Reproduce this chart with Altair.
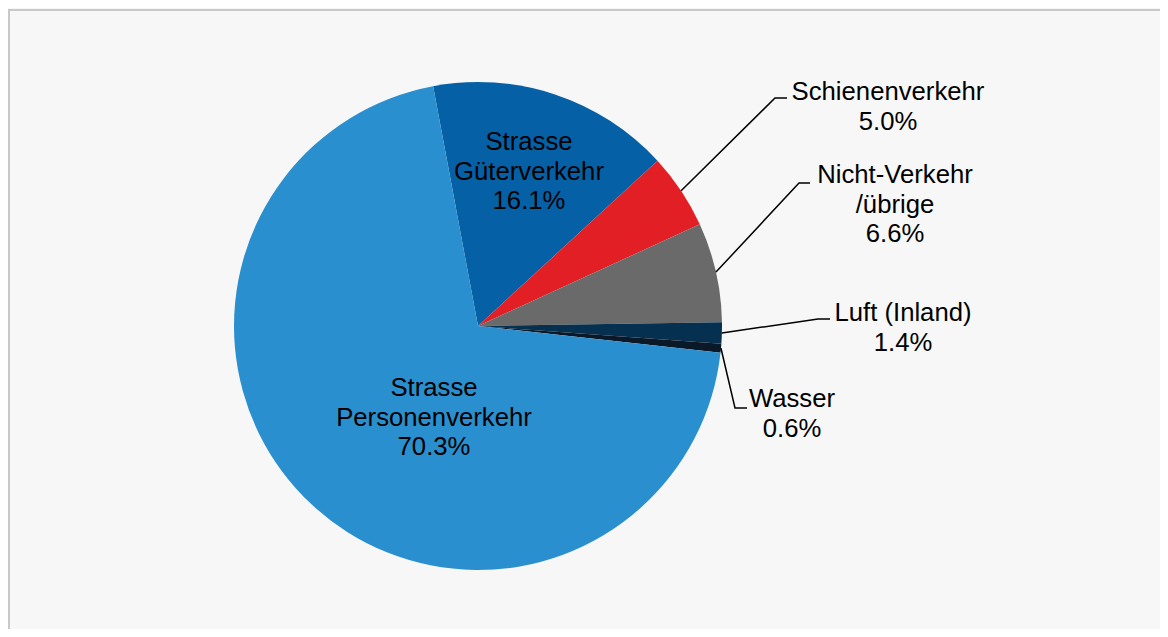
import math
import altair as alt
import pandas as pd

# ---- data ----
categories = ["Strasse Güterverkehr", "Schienenverkehr", "Nicht-Verkehr /übrige",
              "Luft (Inland)", "Wasser", "Strasse Personenverkehr"]
label_text = ["Strasse\nGüterverkehr", "Schienenverkehr", "Nicht-Verkehr\n/übrige",
              "Luft (Inland)", "Wasser", "Strasse\nPersonenverkehr"]
values = [16.1, 5.0, 6.6, 1.4, 0.6, 70.3]
colors = ["#0560A6", "#E31F26", "#6A6A6A", "#06304F", "#0B1828", "#2A8FCE"]

# ---- layout (pixels in chart coordinates) ----
W, H = 1152, 621
CX, CY, R = 470, 318, 244
START = math.radians(-10.6)
label_pos = {  # centre x and first-line y of each label
    "Strasse Güterverkehr": (521, 134),
    "Schienenverkehr": (880, 84),
    "Nicht-Verkehr /übrige": (887, 167),
    "Luft (Inland)": (895, 305),
    "Wasser": (784, 391),
    "Strasse Personenverkehr": (426, 380),
}
leader_pts = {  # elbow and end of the leader line
    "Schienenverkehr": [(767, 90), (779, 90)],
    "Nicht-Verkehr /übrige": [(791, 175), (802, 175)],
    "Luft (Inland)": [(810, 311), (822, 311)],
    "Wasser": [(727, 400), (739, 400)],
}

pie_df = pd.DataFrame({
    "cat": categories,
    "value": values,
    "order": list(range(len(categories))),
})

lab_df = pd.DataFrame({
    "cat": categories,
    "lab": label_text,
    "value": values,
    "px": [label_pos[c][0] for c in categories],
    "py": [label_pos[c][1] for c in categories],
})

# leader lines start at the slice edge at the slice's mid-angle
total = sum(values)
rows = []
cum = 0.0
for c, v in zip(categories, values):
    mid = START + 2 * math.pi * (cum + v / 2) / total
    cum += v
    if c in leader_pts:
        pts = [(CX + R * math.sin(mid), CY - R * math.cos(mid))] + leader_pts[c]
        for i, (x, y) in enumerate(pts):
            rows.append({"cat": c, "seq": i, "px": x, "py": y})
line_df = pd.DataFrame(rows)

xs = alt.Scale(domain=[0, W], range=[0, W], nice=False, zero=False)
ys = alt.Scale(domain=[0, H], range=[0, H], nice=False, zero=False)

border_top = alt.Chart(pie_df).mark_rule(color="#C8C8C8", strokeWidth=2).encode(
    x=alt.value(0), x2=alt.value(W), y=alt.value(2))
border_left = alt.Chart(pie_df).mark_rule(color="#C8C8C8", strokeWidth=2).encode(
    x=alt.value(1), y=alt.value(1), y2=alt.value(H))

pie = alt.Chart(pie_df).mark_arc(radius=R).encode(
    theta=alt.Theta("value:Q", stack=True,
                    scale=alt.Scale(range=[START, START + 2 * math.pi])),
    order=alt.Order("order:Q"),
    color=alt.Color("cat:N", scale=alt.Scale(domain=categories, range=colors), legend=None),
    x=alt.value(CX),
    y=alt.value(CY),
)

lines = alt.Chart(line_df).mark_line(color="black", strokeWidth=1.5).encode(
    x=alt.X("px:Q", scale=xs, axis=None),
    y=alt.Y("py:Q", scale=ys, axis=None),
    detail="cat:N",
    order="seq:Q",
)

text = alt.Chart(lab_df).transform_calculate(
    full="datum.lab + '\\n' + format(datum.value, '.1f') + '%'"
).mark_text(
    font="Liberation Sans", fontSize=25.7, lineHeight=29.5, lineBreak="\n",
    align="center", baseline="middle", color="black"
).encode(
    x=alt.X("px:Q", scale=xs, axis=None),
    y=alt.Y("py:Q", scale=ys, axis=None),
    text="full:N",
)

chart = alt.layer(border_top, border_left, pie, lines, text).properties(
    width=W, height=H, autosize="none", padding=0, background="#F7F7F7"
).configure_view(stroke=None)

chart.save("out.html", embed_options={"renderer": "svg", "actions": False})
